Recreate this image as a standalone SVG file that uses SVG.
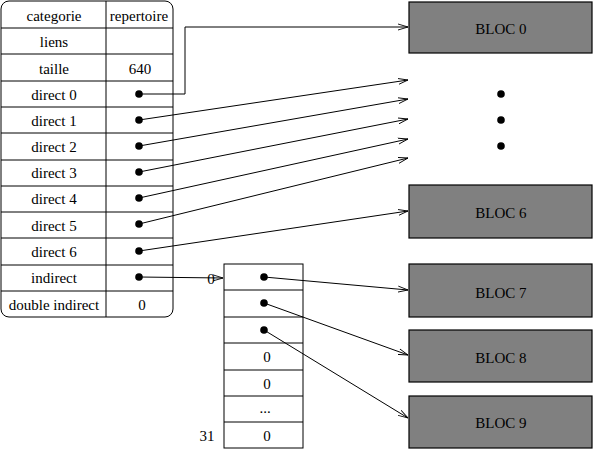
<svg xmlns="http://www.w3.org/2000/svg" width="595" height="450" viewBox="0 0 595 450">
<defs>
<style>
.t{font-family:'Liberation Serif','Times New Roman',Times,serif;font-size:15px;fill:#000;text-anchor:middle}
.ln{stroke:#000;stroke-width:1;fill:none}
.bloc{fill:#808080;stroke:#000;stroke-width:1.2}
.dot{fill:#000}
</style>
<marker id="ah" viewBox="0 0 10 8" refX="10" refY="4" markerWidth="10" markerHeight="8" markerUnits="userSpaceOnUse" orient="auto">
<path d="M0,1 L10,4 L0,7" fill="none" stroke="#000" stroke-width="0.9"/>
</marker>
</defs>
<rect width="595" height="450" fill="#fff"/>

<g id="inode">
<rect x="1" y="1" width="172" height="316" rx="8" class="ln"/>
<line x1="106" y1="1" x2="106" y2="317" class="ln"/>
<line x1="1" y1="28" x2="173" y2="28" class="ln"/>
<line x1="1" y1="54" x2="173" y2="54" class="ln"/>
<line x1="1" y1="81" x2="173" y2="81" class="ln"/>
<line x1="1" y1="107" x2="173" y2="107" class="ln"/>
<line x1="1" y1="133" x2="173" y2="133" class="ln"/>
<line x1="1" y1="160" x2="173" y2="160" class="ln"/>
<line x1="1" y1="186" x2="173" y2="186" class="ln"/>
<line x1="1" y1="212" x2="173" y2="212" class="ln"/>
<line x1="1" y1="238" x2="173" y2="238" class="ln"/>
<line x1="1" y1="265" x2="173" y2="265" class="ln"/>
<line x1="1" y1="291" x2="173" y2="291" class="ln"/>
<g class="t">
<text x="54" y="21">categorie</text>
<text x="139" y="21">repertoire</text>
<text x="54" y="47">liens</text>
<text x="54" y="74">taille</text>
<text x="140" y="74">640</text>
<text x="54" y="100">direct 0</text>
<text x="54" y="126">direct 1</text>
<text x="54" y="152">direct 2</text>
<text x="54" y="178">direct 3</text>
<text x="54" y="204">direct 4</text>
<text x="54" y="231">direct 5</text>
<text x="54" y="257">direct 6</text>
<text x="54" y="283">indirect</text>
<text x="54" y="310">double indirect</text>
<text x="142" y="310">0</text>
</g>
<circle cx="139" cy="94" r="3.8" class="dot"/>
<circle cx="139" cy="120" r="3.8" class="dot"/>
<circle cx="139" cy="146" r="3.8" class="dot"/>
<circle cx="139" cy="172" r="3.8" class="dot"/>
<circle cx="139" cy="198" r="3.8" class="dot"/>
<circle cx="139" cy="224" r="3.8" class="dot"/>
<circle cx="139" cy="251" r="3.8" class="dot"/>
<circle cx="139" cy="277" r="3.8" class="dot"/>
</g>

<g id="indirect-block">
<rect x="224" y="264" width="79" height="184" class="ln"/>
<line x1="224" y1="290" x2="303" y2="290" class="ln"/>
<line x1="224" y1="317" x2="303" y2="317" class="ln"/>
<line x1="224" y1="343" x2="303" y2="343" class="ln"/>
<line x1="224" y1="370" x2="303" y2="370" class="ln"/>
<line x1="224" y1="396" x2="303" y2="396" class="ln"/>
<line x1="224" y1="422" x2="303" y2="422" class="ln"/>
<circle cx="264" cy="277" r="3.8" class="dot"/>
<circle cx="264" cy="303" r="3.8" class="dot"/>
<circle cx="264" cy="330" r="3.8" class="dot"/>
<g class="t">
<text x="267" y="362">0</text>
<text x="267" y="389">0</text>
<text x="265" y="413">...</text>
<text x="267" y="441">0</text>
<text x="211" y="284">0</text>
<text x="207" y="441">31</text>
</g>
</g>

<g id="bloc0"><rect x="409" y="2" width="183" height="51" class="bloc"/><text class="t" x="501" y="34">BLOC 0</text></g>
<g id="ellipsis"><circle cx="501" cy="94" r="3.8" class="dot"/><circle cx="501" cy="120" r="3.8" class="dot"/><circle cx="501" cy="146" r="3.8" class="dot"/></g>
<g id="bloc6"><rect x="409" y="185" width="183" height="53" class="bloc"/><text class="t" x="501" y="218">BLOC 6</text></g>
<g id="bloc7"><rect x="409" y="264" width="183" height="53" class="bloc"/><text class="t" x="501" y="298">BLOC 7</text></g>
<g id="bloc8"><rect x="409" y="330" width="183" height="52" class="bloc"/><text class="t" x="501" y="363">BLOC 8</text></g>
<g id="bloc9"><rect x="409" y="396" width="183" height="52" class="bloc"/><text class="t" x="501" y="428">BLOC 9</text></g>

<g id="connectors">
<polyline points="139,94 185,94 185,27 408,27" class="ln" marker-end="url(#ah)"/>
<line x1="139" y1="120" x2="408" y2="80" class="ln" marker-end="url(#ah)"/>
<line x1="139" y1="146" x2="408" y2="99" class="ln" marker-end="url(#ah)"/>
<line x1="139" y1="172" x2="408" y2="119" class="ln" marker-end="url(#ah)"/>
<line x1="139" y1="198" x2="408" y2="139" class="ln" marker-end="url(#ah)"/>
<line x1="139" y1="224" x2="408" y2="158" class="ln" marker-end="url(#ah)"/>
<line x1="139" y1="251" x2="408" y2="211" class="ln" marker-end="url(#ah)"/>
<line x1="139" y1="277" x2="223" y2="278" class="ln" marker-end="url(#ah)"/>
<line x1="264" y1="277" x2="408" y2="290" class="ln" marker-end="url(#ah)"/>
<line x1="264" y1="303" x2="408" y2="355" class="ln" marker-end="url(#ah)"/>
<line x1="264" y1="330" x2="408" y2="418" class="ln" marker-end="url(#ah)"/>
</g>
</svg>
